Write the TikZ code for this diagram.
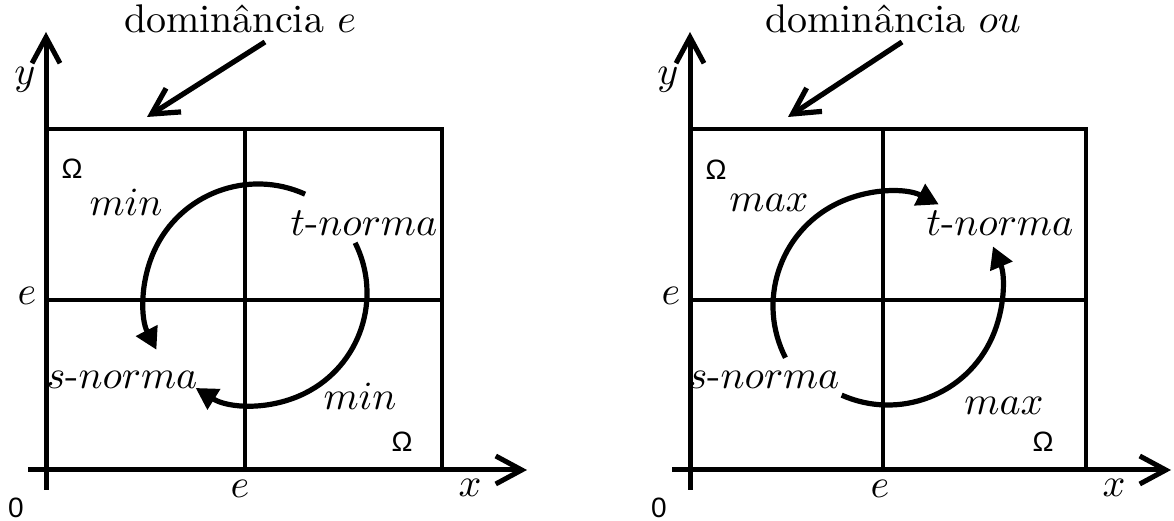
\documentclass[tikz,border=0pt]{standalone}
\usepackage{fontspec}
\newfontfamily\sansomega{Liberation Sans}
\usetikzlibrary{arrows.meta}
\tikzset{
  axisline/.style={line width=1.25pt,-{Straight Barb[length=6.5pt,width=7pt,line width=1.25pt]}},
  domarrow/.style={line width=1.3pt,-{Straight Barb[length=6.5pt,width=7pt,line width=1.3pt]}},
  gridline/.style={line width=1.15pt},
  arcarrow/.style={line width=1.3pt,-{Triangle[length=5.4pt,width=5.8pt]}},
  lab/.style={inner sep=0pt},
  om/.style={inner sep=0pt,font=\sansomega\fontsize{7}{8}\selectfont},
}
\begin{document}
\begin{tikzpicture}[x=0.25pt,y=0.25pt]
\useasboundingbox (0,0) rectangle (1174,521);
% ---------------- left panel ----------------
\coordinate (Lxs) at (28,51);  \coordinate (Lxe) at (527,51);
\coordinate (Lys) at (46,31);  \coordinate (Lye) at (46,489);
\draw[gridline] (46,51) rectangle (442,392);
\draw[gridline] (245,51) -- (245,392);
\draw[gridline] (46,221) -- (442,221);
\draw[axisline] (Lxs) -- (Lxe);
\draw[axisline] (Lys) -- (Lye);
\node[lab] (Ldom) at (240,502) {dominância $e$};
\coordinate (Lds) at (265,479); \coordinate (Ldt) at (147,404);
\draw[domarrow] (Lds) -- (Ldt);
\coordinate (Lc1) at (258,223);
\coordinate (Lc2) at (255,228);
\draw[arcarrow] ([shift={(65.6:114)}]Lc1) arc[start angle=65.6, end angle=207, radius=114];
\draw[arcarrow] ([shift={(26.6:112)}]Lc2) arc[start angle=26.6, end angle=-122, radius=112];
\node[lab] (Ly) at (25,441) {$y$};
\node[om] (Lom1) at (72,352) {Ω};
\node[lab] (Lmin1) at (126,319) {$min$};
\node[lab] (Lt) at (364,298) {$t$-$norma$};
\node[lab] (Le1) at (27,225) {$e$};
\node[lab] (Ls) at (122,141) {$s$-$norma$};
\node[lab] (Lmin2) at (360,125) {$min$};
\node[om] (Lom2) at (402,79) {Ω};
\node[lab] (Le2) at (240,32) {$e$};
\node[lab] (Lx) at (470,33) {$x$};
\node[om] (L0) at (16,13) {0};
% ---------------- right panel ----------------
\coordinate (Rxs) at (672,51);  \coordinate (Rxe) at (1171,51);
\coordinate (Rys) at (690,31);  \coordinate (Rye) at (690,489);
\draw[gridline] (690,51) rectangle (1086,392);
\draw[gridline] (883,51) -- (883,392);
\draw[gridline] (690,221) -- (1086,221);
\draw[axisline] (Rxs) -- (Rxe);
\draw[axisline] (Rys) -- (Rye);
\node[lab] (Rdom) at (893,502) {dominância $ou$};
\coordinate (Rds) at (902,479); \coordinate (Rdt) at (788,404);
\draw[domarrow] (Rds) -- (Rdt);
\coordinate (Rc1) at (887,215);
\coordinate (Rc2) at (888,230);
\draw[arcarrow] ([shift={(207:114)}]Rc1) arc[start angle=207, end angle=63, radius=114];
\draw[arcarrow] ([shift={(246:114)}]Rc2) arc[start angle=246, end angle=383, radius=114];
\node[lab] (Ry) at (668,441) {$y$};
\node[om] (Rom1) at (716,351) {Ω};
\node[lab] (Rmax1) at (769,318) {$max$};
\node[lab] (Rt) at (1000,298) {$t$-$norma$};
\node[lab] (Re1) at (671,225) {$e$};
\node[lab] (Rs) at (764,141) {$s$-$norma$};
\node[lab] (Rmax2) at (1004,115) {$max$};
\node[om] (Rom2) at (1043,79) {Ω};
\node[lab] (Re2) at (880,32) {$e$};
\node[lab] (Rx) at (1114,33) {$x$};
\node[om] (R0) at (659,13) {0};
\end{tikzpicture}
\end{document}
